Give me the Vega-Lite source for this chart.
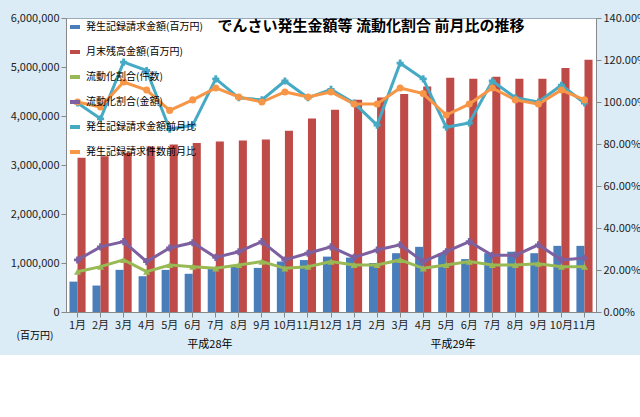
{
"$schema":"https://vega.github.io/schema/vega-lite/v6.json",
"width":530,"height":294,
"padding":{"left":10,"top":12,"right":6,"bottom":6},
"background":"#dcecf6",
"view":{"fill":"white","stroke":"#9ab"},
"config":{"font":"Noto Sans CJK JP","axis":{"labelFontSize":11,"labelColor":"#222","grid":false,"domainColor":"#888","tickColor":"#888"}},
"title":{"text":"でんさい発生金額等 流動化割合 前月比の推移","fontSize":15,"fontWeight":"bold","offset":-22,"dx":40,"font":"Noto Sans CJK JP"},
"datasets":{
"bars":[
{"k":1,"s":"発生記録請求金額(百万円)","v":620000},{"k":2,"s":"発生記録請求金額(百万円)","v":540000},{"k":3,"s":"発生記録請求金額(百万円)","v":860000},{"k":4,"s":"発生記録請求金額(百万円)","v":730000},{"k":5,"s":"発生記録請求金額(百万円)","v":860000},{"k":6,"s":"発生記録請求金額(百万円)","v":780000},{"k":7,"s":"発生記録請求金額(百万円)","v":900000},{"k":8,"s":"発生記録請求金額(百万円)","v":960000},{"k":9,"s":"発生記録請求金額(百万円)","v":900000},{"k":10,"s":"発生記録請求金額(百万円)","v":1030000},{"k":11,"s":"発生記録請求金額(百万円)","v":1060000},{"k":12,"s":"発生記録請求金額(百万円)","v":1130000},{"k":13,"s":"発生記録請求金額(百万円)","v":1110000},{"k":14,"s":"発生記録請求金額(百万円)","v":1000000},{"k":15,"s":"発生記録請求金額(百万円)","v":1200000},{"k":16,"s":"発生記録請求金額(百万円)","v":1330000},{"k":17,"s":"発生記録請求金額(百万円)","v":1200000},{"k":18,"s":"発生記録請求金額(百万円)","v":1080000},{"k":19,"s":"発生記録請求金額(百万円)","v":1200000},{"k":20,"s":"発生記録請求金額(百万円)","v":1230000},{"k":21,"s":"発生記録請求金額(百万円)","v":1200000},{"k":22,"s":"発生記録請求金額(百万円)","v":1350000},{"k":23,"s":"発生記録請求金額(百万円)","v":1350000},
{"k":1,"s":"月末残高金額(百万円)","v":3150000},{"k":2,"s":"月末残高金額(百万円)","v":3180000},{"k":3,"s":"月末残高金額(百万円)","v":3250000},{"k":4,"s":"月末残高金額(百万円)","v":3380000},{"k":5,"s":"月末残高金額(百万円)","v":3420000},{"k":6,"s":"月末残高金額(百万円)","v":3450000},{"k":7,"s":"月末残高金額(百万円)","v":3480000},{"k":8,"s":"月末残高金額(百万円)","v":3500000},{"k":9,"s":"月末残高金額(百万円)","v":3520000},{"k":10,"s":"月末残高金額(百万円)","v":3700000},{"k":11,"s":"月末残高金額(百万円)","v":3950000},{"k":12,"s":"月末残高金額(百万円)","v":4130000},{"k":13,"s":"月末残高金額(百万円)","v":4330000},{"k":14,"s":"月末残高金額(百万円)","v":4380000},{"k":15,"s":"月末残高金額(百万円)","v":4450000},{"k":16,"s":"月末残高金額(百万円)","v":4600000},{"k":17,"s":"月末残高金額(百万円)","v":4780000},{"k":18,"s":"月末残高金額(百万円)","v":4760000},{"k":19,"s":"月末残高金額(百万円)","v":4800000},{"k":20,"s":"月末残高金額(百万円)","v":4760000},{"k":21,"s":"月末残高金額(百万円)","v":4760000},{"k":22,"s":"月末残高金額(百万円)","v":4980000},{"k":23,"s":"月末残高金額(百万円)","v":5150000}
],
"lines":[
{"k":1,"s":"流動化割合(件数)","v":19.2},{"k":2,"s":"流動化割合(件数)","v":21.6},{"k":3,"s":"流動化割合(件数)","v":24.8},{"k":4,"s":"流動化割合(件数)","v":19.2},{"k":5,"s":"流動化割合(件数)","v":22.4},{"k":6,"s":"流動化割合(件数)","v":21.6},{"k":7,"s":"流動化割合(件数)","v":20.8},{"k":8,"s":"流動化割合(件数)","v":22.4},{"k":9,"s":"流動化割合(件数)","v":24},{"k":10,"s":"流動化割合(件数)","v":20.8},{"k":11,"s":"流動化割合(件数)","v":21.6},{"k":12,"s":"流動化割合(件数)","v":24},{"k":13,"s":"流動化割合(件数)","v":22.4},{"k":14,"s":"流動化割合(件数)","v":22.4},{"k":15,"s":"流動化割合(件数)","v":24.8},{"k":16,"s":"流動化割合(件数)","v":20.8},{"k":17,"s":"流動化割合(件数)","v":22.4},{"k":18,"s":"流動化割合(件数)","v":24},{"k":19,"s":"流動化割合(件数)","v":22.4},{"k":20,"s":"流動化割合(件数)","v":22.4},{"k":21,"s":"流動化割合(件数)","v":23},{"k":22,"s":"流動化割合(件数)","v":21.6},{"k":23,"s":"流動化割合(件数)","v":21.6},
{"k":1,"s":"流動化割合(金額)","v":24.8},{"k":2,"s":"流動化割合(金額)","v":31},{"k":3,"s":"流動化割合(金額)","v":33.5},{"k":4,"s":"流動化割合(金額)","v":24},{"k":5,"s":"流動化割合(金額)","v":30.5},{"k":6,"s":"流動化割合(金額)","v":33},{"k":7,"s":"流動化割合(金額)","v":26},{"k":8,"s":"流動化割合(金額)","v":28.7},{"k":9,"s":"流動化割合(金額)","v":33.5},{"k":10,"s":"流動化割合(金額)","v":24.8},{"k":11,"s":"流動化割合(金額)","v":28},{"k":12,"s":"流動化割合(金額)","v":31},{"k":13,"s":"流動化割合(金額)","v":26},{"k":14,"s":"流動化割合(金額)","v":29.5},{"k":15,"s":"流動化割合(金額)","v":32},{"k":16,"s":"流動化割合(金額)","v":24},{"k":17,"s":"流動化割合(金額)","v":28.7},{"k":18,"s":"流動化割合(金額)","v":33.5},{"k":19,"s":"流動化割合(金額)","v":27},{"k":20,"s":"流動化割合(金額)","v":27},{"k":21,"s":"流動化割合(金額)","v":32},{"k":22,"s":"流動化割合(金額)","v":24.8},{"k":23,"s":"流動化割合(金額)","v":25.7},
{"k":1,"s":"発生記録請求金額前月比","v":99.5},{"k":2,"s":"発生記録請求金額前月比","v":92},{"k":3,"s":"発生記録請求金額前月比","v":119},{"k":4,"s":"発生記録請求金額前月比","v":115},{"k":5,"s":"発生記録請求金額前月比","v":87},{"k":6,"s":"発生記録請求金額前月比","v":89},{"k":7,"s":"発生記録請求金額前月比","v":111},{"k":8,"s":"発生記録請求金額前月比","v":102},{"k":9,"s":"発生記録請求金額前月比","v":101},{"k":10,"s":"発生記録請求金額前月比","v":110},{"k":11,"s":"発生記録請求金額前月比","v":102},{"k":12,"s":"発生記録請求金額前月比","v":106},{"k":13,"s":"発生記録請求金額前月比","v":99.5},{"k":14,"s":"発生記録請求金額前月比","v":89},{"k":15,"s":"発生記録請求金額前月比","v":118.5},{"k":16,"s":"発生記録請求金額前月比","v":111},{"k":17,"s":"発生記録請求金額前月比","v":88},{"k":18,"s":"発生記録請求金額前月比","v":90},{"k":19,"s":"発生記録請求金額前月比","v":110},{"k":20,"s":"発生記録請求金額前月比","v":102},{"k":21,"s":"発生記録請求金額前月比","v":100},{"k":22,"s":"発生記録請求金額前月比","v":108},{"k":23,"s":"発生記録請求金額前月比","v":99.5},
{"k":1,"s":"発生記録請求件数前月比","v":100},{"k":2,"s":"発生記録請求件数前月比","v":97.6},{"k":3,"s":"発生記録請求件数前月比","v":109.5},{"k":4,"s":"発生記録請求件数前月比","v":105.7},{"k":5,"s":"発生記録請求件数前月比","v":96},{"k":6,"s":"発生記録請求件数前月比","v":101},{"k":7,"s":"発生記録請求件数前月比","v":106.7},{"k":8,"s":"発生記録請求件数前月比","v":102.4},{"k":9,"s":"発生記録請求件数前月比","v":100},{"k":10,"s":"発生記録請求件数前月比","v":104.8},{"k":11,"s":"発生記録請求件数前月比","v":102.4},{"k":12,"s":"発生記録請求件数前月比","v":104.8},{"k":13,"s":"発生記録請求件数前月比","v":99},{"k":14,"s":"発生記録請求件数前月比","v":99},{"k":15,"s":"発生記録請求件数前月比","v":106.7},{"k":16,"s":"発生記録請求件数前月比","v":104},{"k":17,"s":"発生記録請求件数前月比","v":93.8},{"k":18,"s":"発生記録請求件数前月比","v":99},{"k":19,"s":"発生記録請求件数前月比","v":106.7},{"k":20,"s":"発生記録請求件数前月比","v":101},{"k":21,"s":"発生記録請求件数前月比","v":99},{"k":22,"s":"発生記録請求件数前月比","v":105.7},{"k":23,"s":"発生記録請求件数前月比","v":101}
]},
"encoding":{"x":{"field":"k","type":"ordinal","scale":{"paddingInner":0.3,"paddingOuter":0.15},
"axis":{"labelAngle":0,"labelExpr":"(datum.value>12?datum.value-12:datum.value)+'月'","title":"平成28年　　　　　　　　　　　　　　　　　　平成29年","titleFontSize":11,"titleFontWeight":"normal","titlePadding":8}}},
"layer":[
{"data":{"name":"bars"},"mark":{"type":"bar"},
"encoding":{"xOffset":{"field":"s","sort":["発生記録請求金額(百万円)","月末残高金額(百万円)"]},
"y":{"field":"v","type":"quantitative","scale":{"domain":[0,6000000]},"axis":{"labelExpr":"format(datum.value,',')","values":[0,1000000,2000000,3000000,4000000,5000000,6000000],"title":"(百万円)","titleAngle":0,"titleFontWeight":"normal","titleFontSize":10,"titleX":-50,"titleY":312,"titleAlign":"left","titleBaseline":"top"}},
"color":{"field":"s","type":"nominal","scale":{"domain":["発生記録請求金額(百万円)","月末残高金額(百万円)","流動化割合(件数)","流動化割合(金額)","発生記録請求金額前月比","発生記録請求件数前月比"],"range":["#4a7ebb","#be4b48","#98b954","#7d60a0","#46aac5","#f79646"]},
"legend":{"orient":"top-left","title":null,"labelFontSize":10,"symbolType":"stroke","symbolStrokeWidth":4,"rowPadding":9,"labelLimit":200,"offset":2}}}},
{"data":{"name":"lines"},"mark":{"type":"line","strokeWidth":3,"point":{"size":50,"filled":true}},
"encoding":{"y":{"field":"v","type":"quantitative","scale":{"domain":[0,140]},"axis":{"orient":"right","title":null,"values":[0,20,40,60,80,100,120,140],"labelExpr":"format(datum.value,'.2f')+'%'"}},
"color":{"field":"s","type":"nominal"},
"shape":{"field":"s","type":"nominal","scale":{"domain":["流動化割合(件数)","流動化割合(金額)","発生記録請求金額前月比","発生記録請求件数前月比"],"range":["triangle-up","cross","cross","circle"]},"legend":null}}}
],
"resolve":{"scale":{"y":"independent","xOffset":"independent","shape":"independent"}}
}
